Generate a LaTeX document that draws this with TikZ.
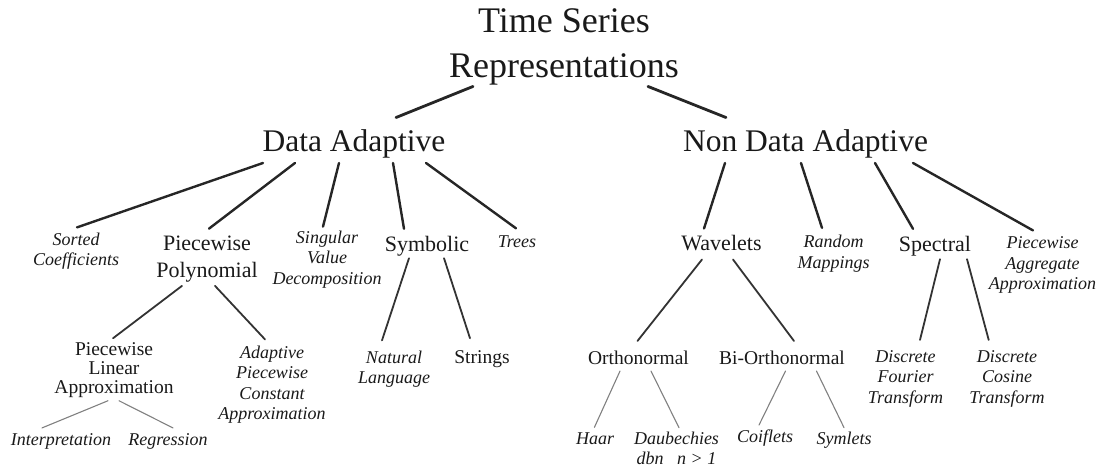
\documentclass[tikz,border=0pt]{standalone}
\usepackage{fontspec}
\setmainfont{Liberation Serif}
\usetikzlibrary{positioning}
\tikzset{
taxonomy/.style={
    line cap=round,
    inner sep=1pt,
    on grid,
    text=black!90
},
root/.style={
    align=center,
    font=\fontsize{36}{45}\selectfont
},
family/.style={
    font=\fontsize{31.5}{38}\selectfont
},
group/.style={
    align=center,
    font=\fontsize{22}{27}\selectfont
},
subgroup/.style={
    align=center,
    font=\fontsize{19.5}{19}\selectfont
},
method/.style={
    align=center,
    font=\fontsize{18}{20.5}\selectfont\itshape
},
trunk/.style={
    line width=2.8pt,
    black!85
},
bough/.style={
    line width=2.4pt,
    black!85
},
branch/.style={
    line width=1.8pt,
    black!80
},
twig/.style={
    line width=1.1pt,
    black!50
}}

\begin{document}
\begin{tikzpicture}[taxonomy]
\useasboundingbox (0,0) rectangle (1100pt,-472pt);

\node[root]     (tsr)   at (564pt,-47pt)                        {Time Series\\Representations};
\node[family]   (da)    [below left=97pt and 210pt of tsr]      {Data Adaptive};
\node[family]   (nda)   [below right=97pt and 241.5pt of tsr]   {Non Data Adaptive};

% data adaptive
\node[method]   (sc)    [below left=107pt and 278pt of da]      {Sorted\\Coefficients};
\node[group]    (pp)    [below left=115pt and 147pt of da]      {Piecewise\\Polynomial};
\node[method]   (svd)   [below left=115.5pt and 27pt of da]     {Singular\\Value\\Decomposition};
\node[group]    (sym)   [below right=102pt and 73pt of da]      {Symbolic};
\node[method]   (trees) [below right=97.5pt and 163pt of da]    {Trees};

\node[subgroup] (pla)   [below left=111pt and 93pt of pp]       {Piecewise\\Linear\\Approximation};
\node[method]   (apca)  [below right=125.5pt and 65pt of pp]    {Adaptive\\Piecewise\\Constant\\Approximation};
\node[method]   (nl)    [below left=123pt and 33pt of sym]      {Natural\\Language};
\node[subgroup] (str)   [below right=113pt and 55pt of sym]     {Strings};

\node[method]   (interp) [below left=71pt and 53pt of pla]      {Interpretation};
\node[method]   (regr)  [below right=71pt and 54pt of pla]      {Regression};

% non data adaptive
\node[group]    (wav)   [below left=99.5pt and 84pt of nda]     {Wavelets};
\node[method]   (rm)    [below right=109.5pt and 28pt of nda]   {Random\\Mappings};
\node[group]    (spec)  [below right=102pt and 129.5pt of nda]  {Spectral};
\node[method]   (paa)   [below right=121pt and 237pt of nda]    {Piecewise\\Aggregate\\Approximation};

\node[subgroup] (orth)  [below left=114.5pt and 83pt of wav]    {Orthonormal};
\node[subgroup] (biorth) [below right=114.5pt and 60.5pt of wav] {Bi-Orthonormal};
\node[method]   (dft)   [below left=132.5pt and 29.5pt of spec] {Discrete\\Fourier\\Transform};
\node[method]   (dct)   [below right=132.5pt and 72pt of spec]  {Discrete\\Cosine\\Transform};

\node[method]   (haar)  [below left=80.5pt and 43.5pt of orth]  {Haar};
\node[method]   (daub)  [below right=90.5pt and 38pt of orth]   {Daubechies\\dbn\hspace{9pt} n > 1};
\node[method]   (coif)  [below left=80.5pt and 17pt of biorth]  {Coiflets};
\node[method]   (syml)  [below right=82pt and 62pt of biorth]   {Symlets};

\path   ([xshift=-91pt]tsr.south)   edge[trunk]   ([shift={(42pt,11pt)}]da.north);
\path   ([xshift=84pt]tsr.south)    edge[trunk]   ([shift={(-79.5pt,11pt)}]nda.north);

\path   ([shift={(-91pt,-3.5pt)}]da.south)   edge[bough]   ([shift={(1pt,4pt)}]sc.north);
\path   ([shift={(-59pt,-3.5pt)}]da.south)   edge[bough]   ([shift={(2pt,6pt)}]pp.north);
\path   ([shift={(-15pt,-3.5pt)}]da.south)   edge[bough]   ([shift={(-4pt,3pt)}]svd.north);
\path   ([shift={(39pt,-3.5pt)}]da.south)    edge[bough]   ([shift={(-23pt,6pt)}]sym.north);
\path   ([shift={(72pt,-3.5pt)}]da.south)    edge[bough]   ([shift={(-1pt,6pt)}]trees.north);

\path   ([shift={(-80.5pt,-3.5pt)}]nda.south)  edge[bough]   ([shift={(-17.5pt,6pt)}]wav.north);
\path   ([shift={(-4.5pt,-3.5pt)}]nda.south)   edge[bough]   ([shift={(-11.5pt,6pt)}]rm.north);
\path   ([shift={(69.5pt,-3.5pt)}]nda.south)   edge[bough]   ([shift={(-22pt,6pt)}]spec.north);
\path   ([shift={(107.5pt,-3.5pt)}]nda.south)  edge[bough]   ([shift={(-9.5pt,5pt)}]paa.north);

\path   ([shift={(-25pt,-2.5pt)}]pp.south)   edge[branch]  ([shift={(-1pt,3pt)}]pla.north);
\path   ([shift={(8pt,-2.5pt)}]pp.south)     edge[branch]  ([shift={(-7pt,5pt)}]apca.north);
\path   ([shift={(-18pt,-1pt)}]sym.south)    edge[branch]  ([shift={(-12pt,9pt)}]nl.north);
\path   ([shift={(17pt,-1pt)}]sym.south)     edge[branch]  ([shift={(-12pt,11pt)}]str.north);
\path   ([shift={(-19.5pt,-7pt)}]wav.south)  edge[branch]  ([shift={(-1pt,9pt)}]orth.north);
\path   ([shift={(11.5pt,-7pt)}]wav.south)   edge[branch]  ([shift={(12pt,9pt)}]biorth.north);
\path   ([shift={(5pt,-2pt)}]spec.south)     edge[branch]  ([shift={(14.5pt,9pt)}]dft.north);
\path   ([shift={(32pt,-2pt)}]spec.south)    edge[branch]  ([shift={(-18.3pt,9pt)}]dct.north);

\path   ([shift={(-6pt,-2pt)}]pla.south)     edge[twig]    ([shift={(-19pt,4pt)}]interp.north);
\path   ([shift={(5pt,-2pt)}]pla.south)      edge[twig]    ([shift={(5pt,4pt)}]regr.north);
\path   ([shift={(-18.5pt,-5pt)}]orth.south) edge[twig]    ([shift={(-0.6pt,4pt)}]haar.north);
\path   ([shift={(12.5pt,-5pt)}]orth.south)  edge[twig]    ([shift={(2.5pt,3pt)}]daub.north);
\path   ([shift={(3.5pt,-5pt)}]biorth.south) edge[twig]    ([shift={(-6pt,4pt)}]coif.north);
\path   ([shift={(34.5pt,-5pt)}]biorth.south) edge[twig]   ([shift={(0pt,3pt)}]syml.north);
\end{tikzpicture}
\end{document}
